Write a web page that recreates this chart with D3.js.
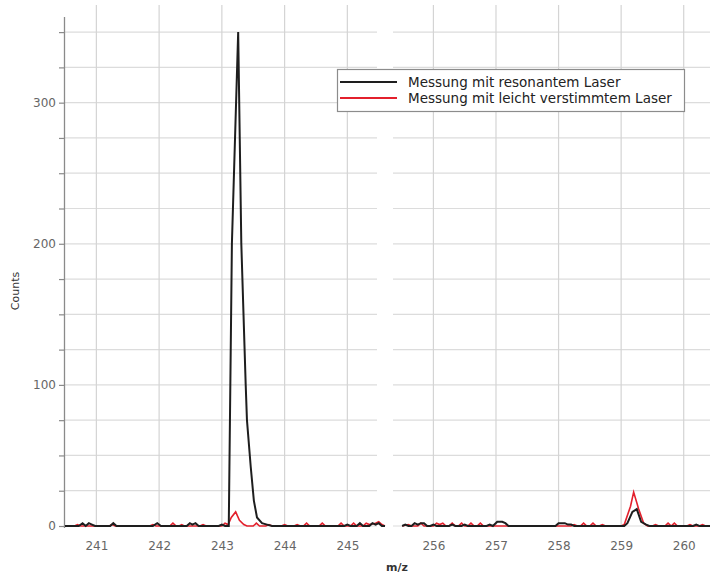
<!DOCTYPE html>
<html>
<head>
<meta charset="utf-8">
<script src="https://cdn.jsdelivr.net/npm/d3@7"></script>
<style>
  html, body { margin: 0; padding: 0; background: #fff; overflow: hidden; }
  svg { display: block; font-family: "DejaVu Sans", sans-serif; }
</style>
</head>
<body>
<svg id="chart" width="710" height="575"></svg>
<script>
// Two m/z windows of a broken x axis
const lowWindow = [240.5, 245.6];
const highWindow = [255.45, 260.5];
const lowTicks = [241, 242, 243, 244, 245];
const highTicks = [256, 257, 258, 259, 260];
const countTicks = [0, 100, 200, 300];
const countGrid = [0, 25, 50, 75, 100, 125, 150, 175, 200, 225, 250, 275, 300, 325, 350];

const seriesNames = ["Messung mit resonantem Laser", "Messung mit leicht verstimmtem Laser"];
const seriesColors = ["#1e1e1e", "#e3202c"];

// [m/z, counts] — resonant laser, low window
const resonantLow = [
  [240.5,0],[240.72,0],[240.78,2],[240.83,0],[240.88,2],[240.93,1],[240.98,0],
  [241.22,0],[241.27,2],[241.32,0],[241.9,0],[241.97,2],[242.03,0],
  [242.44,0],[242.49,2],[242.53,1],[242.58,2],[242.63,0],[242.95,0],[243.0,1],[243.05,0],
  [243.11,0],[243.16,200],[243.26,350],[243.31,200],[243.38,100],[243.40,75],
  [243.46,42],[243.51,18],[243.56,6],[243.64,2],[243.72,1],[243.8,0],
  [244.95,0],[245.0,1],[245.05,0],[245.15,0],[245.2,2],[245.25,0],[245.35,0],[245.4,2],[245.45,1],[245.5,2],[245.55,0],[245.6,0]
];
// [m/z, counts] — detuned laser, low window
const detunedLow = [
  [240.5,0],[240.65,0],[240.7,1],[240.75,0],[241.2,0],[241.25,1],[241.3,0],
  [241.85,0],[241.9,1],[241.95,0],[242.17,0],[242.22,2],[242.27,0],[242.32,0],[242.36,1],[242.4,0],
  [242.65,0],[242.7,1],[242.75,0],[243.0,0],[243.05,2],[243.1,1],[243.15,6],[243.22,10],[243.28,4],[243.35,1],[243.4,0],
  [243.5,0],[243.55,2],[243.6,0],[243.7,0],[243.75,1],[243.8,0],[243.95,0],[244.0,1],[244.05,0],
  [244.15,0],[244.2,1],[244.25,0],[244.3,0],[244.35,2],[244.4,0],[244.55,0],[244.6,2],[244.65,0],
  [244.85,0],[244.9,2],[244.95,0],[245.05,0],[245.1,2],[245.15,0],[245.25,0],[245.3,2],[245.35,1],[245.45,2],[245.5,3],[245.55,1],[245.6,0]
];
// [m/z, counts] — resonant laser, high window
const resonantHigh = [
  [255.5,0],[255.55,1],[255.6,0],[255.65,0],[255.7,2],[255.75,1],[255.8,2],[255.85,2],[255.9,0],
  [255.95,0],[256.0,1],[256.05,0],[256.25,0],[256.3,1],[256.35,0],[256.45,0],[256.5,1],[256.55,0],
  [256.85,0],[256.9,1],[256.95,0],[257.02,3],[257.1,3],[257.15,2],[257.2,0],
  [257.95,0],[258.0,2],[258.05,2],[258.1,2],[258.15,1],[258.2,1],[258.25,0],
  [259.05,0],[259.1,2],[259.18,10],[259.25,12],[259.32,3],[259.4,1],[259.45,0],
  [260.15,0],[260.2,1],[260.25,0],[260.5,0]
];
// [m/z, counts] — detuned laser, high window
const detunedHigh = [
  [255.5,0],[255.6,1],[255.65,0],[255.75,0],[255.8,2],[255.85,0],
  [256.0,0],[256.05,2],[256.1,1],[256.15,2],[256.2,0],[256.25,0],[256.3,2],[256.35,0],
  [256.4,0],[256.45,2],[256.5,0],[256.55,0],[256.6,2],[256.65,0],[256.7,0],[256.75,2],[256.8,0],
  [258.2,0],[258.25,1],[258.3,0],[258.35,0],[258.4,2],[258.45,0],[258.5,0],[258.55,2],[258.6,0],[258.65,0],[258.7,1],[258.75,0],
  [259.0,0],[259.05,1],[259.15,14],[259.2,24],[259.28,12],[259.36,2],[259.42,0],
  [259.5,0],[259.55,1],[259.6,0],[259.7,0],[259.75,2],[259.8,0],[259.85,2],[259.9,0],
  [260.05,0],[260.1,1],[260.15,0],[260.25,0],[260.3,1],[260.35,0],[260.5,0]
];

const svg = d3.select("#chart");

const y = d3.scaleLinear().domain([0, 360]).range([526, 18]);
const xLow = d3.scaleLinear().domain(lowWindow).range([65, 385]);
const xHigh = d3.scaleLinear().domain(highWindow).range([399, 715]);

const panels = [
  { x: xLow, ticks: lowTicks, gridEnd: 377, gridStart: 65, data: [resonantLow, detunedLow] },
  { x: xHigh, ticks: highTicks, gridEnd: 715, gridStart: 393, data: [resonantHigh, detunedHigh] }
];

// grid
panels.forEach(p => {
  const g = svg.append("g");
  g.selectAll("line.h").data(countGrid).join("line")
    .attr("x1", p.gridStart).attr("x2", p.gridEnd)
    .attr("y1", d => y(d)).attr("y2", d => y(d))
    .attr("stroke", "#dcdcdc").attr("stroke-width", 1.2);
  g.selectAll("line.v").data(p.ticks).join("line")
    .attr("x1", d => p.x(d)).attr("x2", d => p.x(d))
    .attr("y1", 5).attr("y2", y(0))
    .attr("stroke", "#d4d4d4").attr("stroke-width", 1.2);
});

// y axis
const yAxis = d3.axisLeft(y).tickValues(countGrid).tickSize(6)
  .tickFormat(d => countTicks.includes(d) ? d : "");
const ya = svg.append("g").attr("transform", "translate(65,0)").call(yAxis);
ya.select(".domain").attr("stroke", "#8a8a8a").attr("stroke-width", 1.3)
  .attr("d", `M-0.5,${y(0) + 2}V17`);
ya.selectAll(".tick line").attr("stroke", "#8a8a8a").attr("stroke-width", 1.2);
ya.selectAll(".tick text").attr("fill", "#666").attr("font-size", 12)
  .attr("font-family", "DejaVu Sans, sans-serif").attr("x", -9);

// x axes (labels only)
panels.forEach(p => {
  const xa = svg.append("g").attr("transform", `translate(0,${y(0)})`)
    .call(d3.axisBottom(p.x).tickValues(p.ticks).tickSize(0).tickPadding(15)
      .tickFormat(d3.format("d")));
  xa.select(".domain").remove();
  xa.selectAll(".tick text").attr("fill", "#666").attr("font-size", 12)
    .attr("font-family", "DejaVu Sans, sans-serif");
});

// data lines
panels.forEach(p => {
  const line = d3.line().x(d => p.x(d[0])).y(d => y(d[1]));
  // detuned first, resonant on top
  [1, 0].forEach(i => {
    svg.append("path").datum(p.data[i])
      .attr("fill", "none")
      .attr("stroke", seriesColors[i])
      .attr("stroke-width", i === 0 ? 2 : 1.6)
      .attr("stroke-linejoin", "miter")
      .attr("d", line);
  });
});

// axis titles
svg.append("text").attr("transform", "translate(19,291) rotate(-90)")
  .attr("text-anchor", "middle").attr("font-size", 11).attr("fill", "#333")
  .text("Counts");
svg.append("text").attr("x", 397).attr("y", 571)
  .attr("text-anchor", "middle").attr("font-size", 11).attr("font-weight", "bold").attr("fill", "#333")
  .text("m/z");

// legend
const lg = svg.append("g").attr("transform", "translate(337,69)");
lg.append("rect").attr("x", 0.5).attr("y", 0.5).attr("width", 347).attr("height", 42)
  .attr("fill", "#fff").attr("stroke", "#8c8c8c").attr("stroke-width", 1.2);
seriesNames.forEach((name, i) => {
  const yy = 13 + i * 16;
  lg.append("line").attr("x1", 3).attr("x2", 60).attr("y1", yy).attr("y2", yy)
    .attr("stroke", seriesColors[i]).attr("stroke-width", 2);
  lg.append("text").attr("x", 71).attr("y", yy + 4.5)
    .attr("font-size", 13.5).attr("fill", "#222").text(name);
});
</script>
</body>
</html>
